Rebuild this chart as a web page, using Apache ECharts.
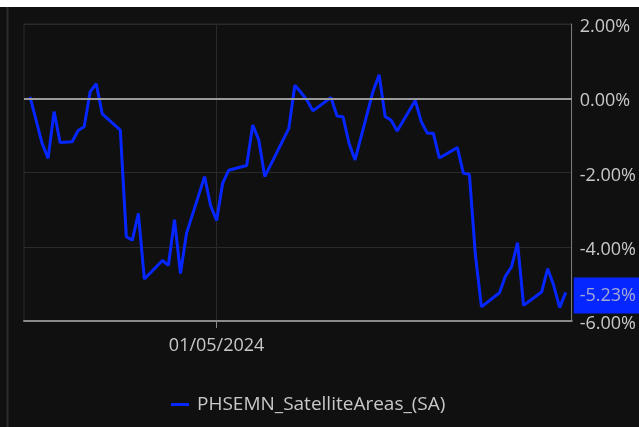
<!DOCTYPE html>
<html>
<head>
<meta charset="utf-8">
<title>PHSEMN_SatelliteAreas_(SA)</title>
<script src="https://cdn.jsdelivr.net/npm/echarts@6/dist/echarts.min.js"></script>
<style>
  html, body { margin: 0; padding: 0; background: #ffffff; }
  #chart { position: absolute; left: 0; top: 7px; width: 639px; height: 420px; background: #101010; }
</style>
</head>
<body>
<div id="chart"></div>
<script>
// Daily % change series, dates and values
const seriesName = 'PHSEMN_SatelliteAreas_(SA)';
const dates = [
  '2024-03-31', '2024-04-02', '2024-04-03', '2024-04-04', '2024-04-05', '2024-04-07',
  '2024-04-08', '2024-04-09', '2024-04-10', '2024-04-11', '2024-04-12',
  '2024-04-15', '2024-04-16', '2024-04-17', '2024-04-18', '2024-04-19',
  '2024-04-22', '2024-04-23', '2024-04-24', '2024-04-25', '2024-04-26',
  '2024-04-29', '2024-04-30', '2024-05-01', '2024-05-02', '2024-05-03',
  '2024-05-06', '2024-05-07', '2024-05-08', '2024-05-09',
  '2024-05-13', '2024-05-14', '2024-05-15', '2024-05-16', '2024-05-17',
  '2024-05-20', '2024-05-21', '2024-05-22', '2024-05-23', '2024-05-24',
  '2024-05-27', '2024-05-28', '2024-05-29', '2024-05-30', '2024-05-31',
  '2024-06-03', '2024-06-04', '2024-06-05', '2024-06-06', '2024-06-07',
  '2024-06-10', '2024-06-11', '2024-06-12', '2024-06-13', '2024-06-14',
  '2024-06-17', '2024-06-18', '2024-06-19', '2024-06-20', '2024-06-21',
  '2024-06-24', '2024-06-25', '2024-06-26', '2024-06-27', '2024-06-28'
];
const values = [
  0.04, -1.21, -1.62, -0.36, -1.19, -1.17,
  -0.87, -0.77, 0.18, 0.39, -0.42,
  -0.86, -3.73, -3.82, -3.10, -4.87,
  -4.37, -4.50, -3.27, -4.72, -3.64,
  -2.11, -2.89, -3.29, -2.29, -1.94,
  -1.81, -0.72, -1.12, -2.11,
  -0.81, 0.35, 0.16, -0.05, -0.34,
  0.02, -0.48, -0.50, -1.21, -1.66,
  0.19, 0.63, -0.49, -0.59, -0.88,
  -0.06, -0.63, -0.94, -0.94, -1.61,
  -1.33, -2.02, -2.05, -4.23, -5.62,
  -5.24, -4.79, -4.54, -3.89, -5.58,
  -5.22, -4.59, -5.04, -5.64, -5.23
];
// Axis range and tick settings
const xRange = ['2024-03-30', '2024-06-29'];
const xTickDates = ['2024-05-01'];
const yTicks = { min: -6, max: 2, step: 2 };

const FONT = '"Open Sans", "Noto Sans", sans-serif';
const TEXT = '#c8c8c8';
const LINE = '#0626ff';

// dates as local-midnight timestamps
const toTime = s => { const p = s.split('-').map(Number); return new Date(p[0], p[1] - 1, p[2]).getTime(); };
const pad2 = n => (n < 10 ? '0' : '') + n;
const fmtDate = v => { const d = new Date(v); return pad2(d.getDate()) + '/' + pad2(d.getMonth() + 1) + '/' + d.getFullYear(); };
const lastValue = values[values.length - 1];

const chart = echarts.init(document.getElementById('chart'), null, { renderer: 'canvas' });
chart.setOption({
  backgroundColor: '#101010',
  animation: false,
  textStyle: { fontFamily: FONT },
  graphic: [
    { type: 'line', silent: true, shape: { x1: 7.5, y1: 0, x2: 7.5, y2: 420 },
      style: { stroke: '#2c2c2c', lineWidth: 2 } }
  ],
  grid: {
    left: 24, right: 64, top: 17, bottom: 106,
    show: true, borderColor: '#2a2a2a', borderWidth: 1, backgroundColor: 'transparent'
  },
  legend: {
    left: 166, top: 383,
    icon: 'rect', itemWidth: 18, itemHeight: 3, itemGap: 10,
    textStyle: { color: TEXT, fontSize: 19, fontFamily: FONT, padding: [0, 0, 0, 3] },
    data: [seriesName]
  },
  xAxis: {
    type: 'value',
    min: toTime(xRange[0]),
    max: toTime(xRange[1]),
    axisLine: { show: true, onZero: false, lineStyle: { color: '#8a8a8a', width: 2 } },
    axisTick: { show: true, length: 7, lineStyle: { color: '#8a8a8a', width: 1 },
      customValues: xTickDates.map(toTime) },
    axisLabel: {
      color: TEXT, fontSize: 18, fontFamily: FONT, margin: 16,
      customValues: xTickDates.map(toTime),
      formatter: v => fmtDate(v)
    },
    splitLine: { show: true, lineStyle: { color: '#2a2a2a', width: 1 } }
  },
  yAxis: {
    type: 'value',
    position: 'right',
    min: yTicks.min, max: yTicks.max, interval: yTicks.step,
    axisLine: { show: true, lineStyle: { color: '#7a7a7a', width: 1 } },
    axisTick: { show: false },
    axisLabel: {
      color: TEXT, fontSize: 18, fontFamily: FONT, margin: 8,
      verticalAlign: 'top', lineHeight: 6,
      formatter: v => v.toFixed(2) + '%'
    },
    splitLine: { show: true, lineStyle: { color: '#2a2a2a', width: 1 } }
  },
  series: [{
    name: seriesName,
    type: 'line',
    clip: false,
    data: dates.map((d, i) => [toTime(d), values[i]]),
    showSymbol: false,
    symbol: 'none',
    color: LINE,
    lineStyle: { color: LINE, width: 3 },
    markLine: {
      silent: true,
      symbol: ['none', 'none'],
      animation: false,
      data: [
        { yAxis: 0, lineStyle: { color: '#9a9a9a', width: 2, type: 'solid' }, label: { show: false } },
        {
          yAxis: lastValue,
          lineStyle: { color: 'rgba(0,0,0,0)', width: 0 },
          label: {
            show: true, position: 'end', distance: 2, offset: [0, 3], opacity: 1,
            formatter: lastValue.toFixed(2) + '%',
            color: '#a4a9d4', fontSize: 18, fontFamily: FONT, lineHeight: 20,
            backgroundColor: LINE, padding: [10, 8, 6, 6]
          }
        }
      ]
    }
  }]
});
</script>
</body>
</html>
